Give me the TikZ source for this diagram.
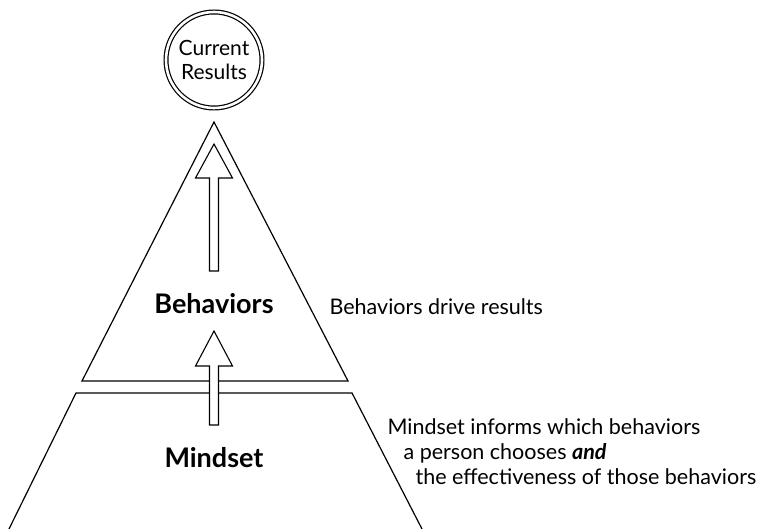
\documentclass[tikz,border=0pt]{standalone}
\usepackage{fontspec}
\setmainfont{Lato}
\usepackage{tikz}
\usetikzlibrary{calc}

\begin{document}
\begin{tikzpicture}[x=1pt, y=-1pt, line width=1.2pt,
    result/.style={circle, draw, double, double distance=2.6pt, minimum size=96pt, inner sep=0pt},
    circtext/.style={inner sep=0pt, font=\fontsize{21}{24}\selectfont},
    level/.style={inner sep=0pt, font=\fontsize{27}{30}\selectfont\bfseries},
    note/.style={inner sep=0pt, align=left, font=\fontsize{21.5}{25}\selectfont},
    blockarrow/.style={draw, fill=white, line width=1.1pt, line join=miter}]
        \useasboundingbox (0,0) rectangle (764,529);
        \coordinate (apex) at (214,122);
        \coordinate (bl) at (82,381);
        \coordinate (br) at (348,381);
        \coordinate (tl) at (76,393);
        \coordinate (tr) at (352,393);
        \coordinate (fl) at (9,529);
        \coordinate (fr) at (422,529);
        \coordinate (tipA) at (214,144);
        \coordinate (tipB) at (214,331);
          % behaviors triangle
          \draw[line join=miter] (bl) -- (apex) -- (br) -- cycle;
          % mindset base
          \draw[line join=miter] (fl) -- (tl) -- (tr) -- (fr);
          % arrows
          \draw[blockarrow] (tipA) -- ++(18.5,34) -- ++(-14,0) -- ++(0,93) -- ++(-9,0) -- ++(0,-93) -- ++(-14,0) -- cycle;
          \draw[blockarrow] (tipB) -- ++(18.5,35) -- ++(-14,0) -- ++(0,59) -- ++(-9,0) -- ++(0,-59) -- ++(-14,0) -- cycle;

          % Current results
          \node[result] (res) at (214,60) {};
          \node[circtext, anchor=base] (cur) at (214,56) {Current};
          \node[circtext, anchor=base] (resl) at (214,80) {Results};

          % Labels
          \node[level, anchor=base] (beh) at (214,314) {Behaviors};
          \node[level, anchor=base] (mind) at (214,468) {Mindset};
          \node[note, anchor=base west] (behnote) at (329,315) {Behaviors drive results};
          \node[note, anchor=north west] (mindnote) at (387,418) {Mindset informs which behaviors\\
            \hspace*{16pt}a person chooses \textbf{\textit{and}}\\
            \hspace*{28pt}the effectiveness of those behaviors};
     \end{tikzpicture}
\end{document}
